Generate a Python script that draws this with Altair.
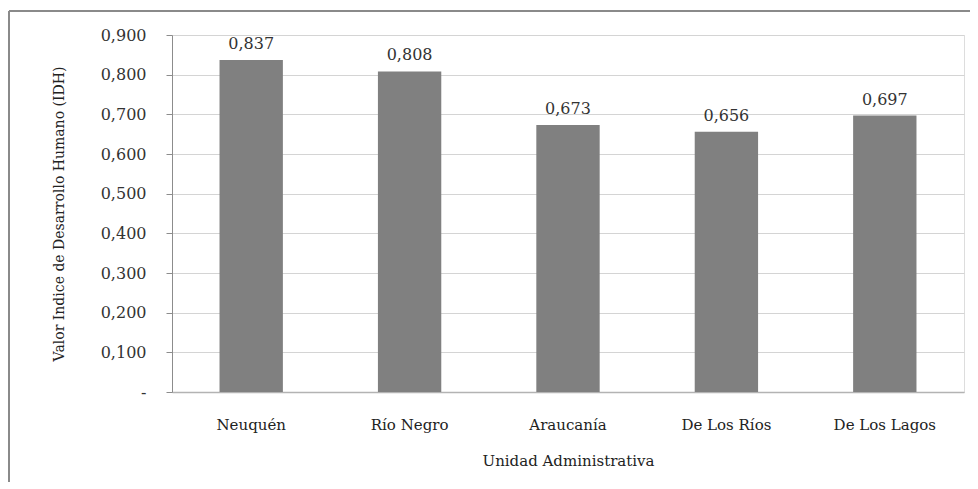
import altair as alt
import pandas as pd

categorias = ["Neuquén", "Río Negro", "Araucanía", "De Los Ríos", "De Los Lagos"]
valores = [0.837, 0.808, 0.673, 0.656, 0.697]
ticks_y = [0.0, 0.1, 0.2, 0.3, 0.4, 0.5, 0.6, 0.7, 0.8, 0.9]

df = pd.DataFrame({"unidad": categorias, "idh": valores})

FONT = "DejaVu Serif"
W, H = 792, 357

base = alt.Chart(df).encode(
    x=alt.X(
        "unidad:N",
        sort=categorias,
        scale=alt.Scale(paddingInner=0.6, paddingOuter=0.3),
        axis=alt.Axis(
            title="Unidad Administrativa",
            labelAngle=0,
            ticks=False,
            domainColor="#b3b3b3",
            domainWidth=1.5,
            labelPadding=25,
            titlePadding=21,
            labelFont=FONT,
            labelFontSize=15,
            labelColor="#222222",
            titleFont=FONT,
            titleFontSize=15,
            titleFontWeight="normal",
            titleColor="#222222",
        ),
    ),
    y=alt.Y(
        "idh:Q",
        scale=alt.Scale(domain=[0, 0.9], nice=False),
        axis=alt.Axis(
            title="Valor Indice de Desarrollo Humano (IDH)",
            values=ticks_y,
            labelExpr="datum.value < 0.0001 ? '-\u00a0\u00a0\u00a0' : replace(format(datum.value, '.3f'), '.', ',')",
            gridColor="#d4d4d4",
            domainColor="#8c8c8c",
            tickColor="#8c8c8c",
            tickSize=6,
            labelPadding=20,
            titlePadding=34,
            labelFont=FONT,
            labelFontSize=16,
            labelColor="#333333",
            titleFont=FONT,
            titleFontSize=14,
            titleFontWeight="normal",
            titleColor="#222222",
        ),
    ),
)

bars = base.mark_bar(color="#808080")

labels = base.transform_calculate(
    etiqueta="replace(format(datum.idh, '.3f'), '.', ',')"
).mark_text(baseline="bottom", dy=-8, font=FONT, fontSize=16, color="#333333").encode(
    text="etiqueta:N"
)

left_border = alt.Chart(df).mark_rule(color="#8a8a8a", strokeWidth=2).encode(
    x=alt.value(-163), y=alt.value(-24), y2=alt.value(H + 100)
)
top_border = alt.Chart(df).mark_rule(color="#8a8a8a", strokeWidth=2).encode(
    x=alt.value(-163), x2=alt.value(W + 20), y=alt.value(-24)
)

chart = (
    alt.layer(left_border, top_border, bars, labels)
    .properties(
        width=W,
        height=H,
        autosize=alt.AutoSizeParams(type="none"),
        padding={"left": 164, "top": 27, "right": 6, "bottom": 90},
    )
    .configure_view(stroke=None)
    .configure(background="white")
)

chart.save("out.html", embed_options={"renderer": "svg", "actions": False})
